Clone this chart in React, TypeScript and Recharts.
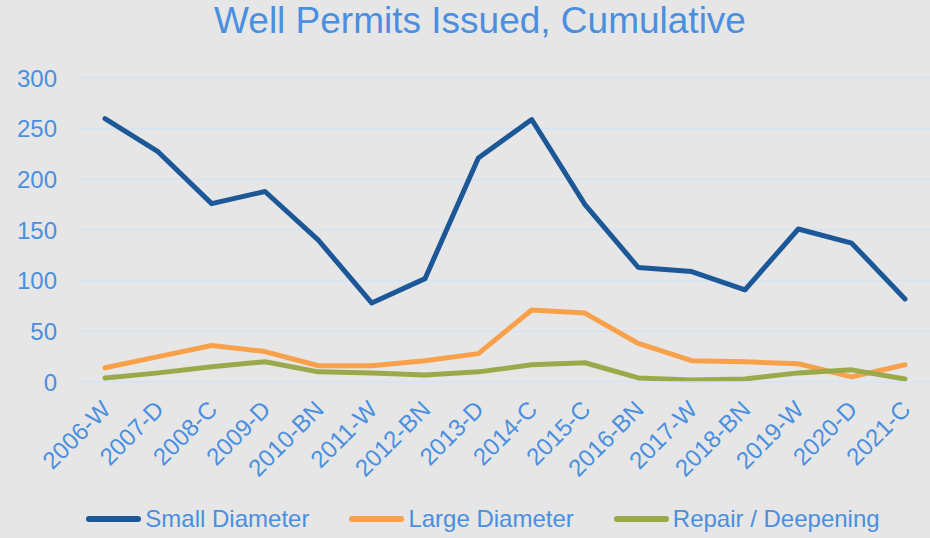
import { LineChart, Line, XAxis, YAxis, CartesianGrid, Legend } from "recharts";

const years = ["2006-W", "2007-D", "2008-C", "2009-D", "2010-BN", "2011-W", "2012-BN", "2013-D", "2014-C", "2015-C", "2016-BN", "2017-W", "2018-BN", "2019-W", "2020-D", "2021-C"];
const smallDiameter = [260, 227, 176, 188, 140, 78, 102, 221, 259, 175, 113, 109, 91, 151, 137, 82];
const largeDiameter = [14, 25, 36, 30, 16, 16, 21, 28, 71, 68, 38, 21, 20, 18, 5, 17];
const repairDeepening = [4, 9, 15, 20, 10, 9, 7, 10, 17, 19, 4, 2, 3, 9, 12, 3];
const yTicks = [0, 50, 100, 150, 200, 250, 300];

const TEXT = "#4a8fe0";
const FONT = "'Liberation Sans', Arial, sans-serif";

const series = [
  { key: "small", name: "Small Diameter", color: "#1c5798" },
  { key: "large", name: "Large Diameter", color: "#f9a04b" },
  { key: "repair", name: "Repair / Deepening", color: "#9aaa4b" },
];

const data = years.map((year, i) => ({
  year,
  small: smallDiameter[i],
  large: largeDiameter[i],
  repair: repairDeepening[i],
}));

function XTick({ x, y, payload }: any) {
  const ax = x + 1;
  const ay = y + 15;
  return (
    <text
      x={ax}
      y={ay}
      transform={`rotate(-45, ${ax}, ${ay})`}
      textAnchor="end"
      dominantBaseline="central"
      fill={TEXT}
      fontSize={24}
      fontFamily={FONT}
    >
      {payload.value}
    </text>
  );
}

function LegendBox() {
  return (
    <div style={{ display: "flex", justifyContent: "center", alignItems: "center", gap: 40, fontFamily: FONT, fontSize: 24, color: TEXT, paddingLeft: 36 }}>
      {series.map((s) => (
        <div key={s.key} style={{ display: "flex", alignItems: "center" }}>
          <span style={{ display: "inline-block", width: 55, height: 6, borderRadius: 3, background: s.color, marginRight: 4 }} />
          <span>{s.name}</span>
        </div>
      ))}
    </div>
  );
}

export default function App() {
  return (
    <div style={{ position: "fixed", left: 0, top: 0, width: 930, height: 538, background: "#e6e6e6", overflow: "hidden" }}>
      <div style={{ position: "absolute", top: 0, left: 0, width: 960, textAlign: "center", fontFamily: FONT, fontSize: 37, color: TEXT }}>
        Well Permits Issued, Cumulative
      </div>
      <LineChart width={930} height={538} data={data} margin={{ top: 78, right: 0, left: 0, bottom: 0 }}>
        <CartesianGrid vertical={false} stroke="#d3e4f5" strokeWidth={1.5} />
        <XAxis
          dataKey="year"
          axisLine={{ stroke: "#d3e4f5", strokeWidth: 1.5 }}
          tickLine={false}
          tick={<XTick />}
          interval={0}
          height={156}
          padding={{ left: 27, right: 25 }}
        />
        <YAxis
          domain={[0, 300]}
          ticks={yTicks}
          width={78}
          axisLine={false}
          tickLine={false}
          tickSize={0}
          tickMargin={21}
          tick={{ fill: TEXT, fontSize: 24, fontFamily: FONT }}
        />
        <Legend
          layout="horizontal"
          verticalAlign="middle"
          align="center"
          wrapperStyle={{ top: 505, left: 0, width: 930 }}
          content={() => <LegendBox />}
        />
        {series.map((s) => (
          <Line
            key={s.key}
            dataKey={s.key}
            name={s.name}
            stroke={s.color}
            strokeWidth={5}
            dot={false}
            activeDot={false}
            strokeLinecap="round"
            strokeLinejoin="round"
            isAnimationActive={false}
          />
        ))}
      </LineChart>
    </div>
  );
}
